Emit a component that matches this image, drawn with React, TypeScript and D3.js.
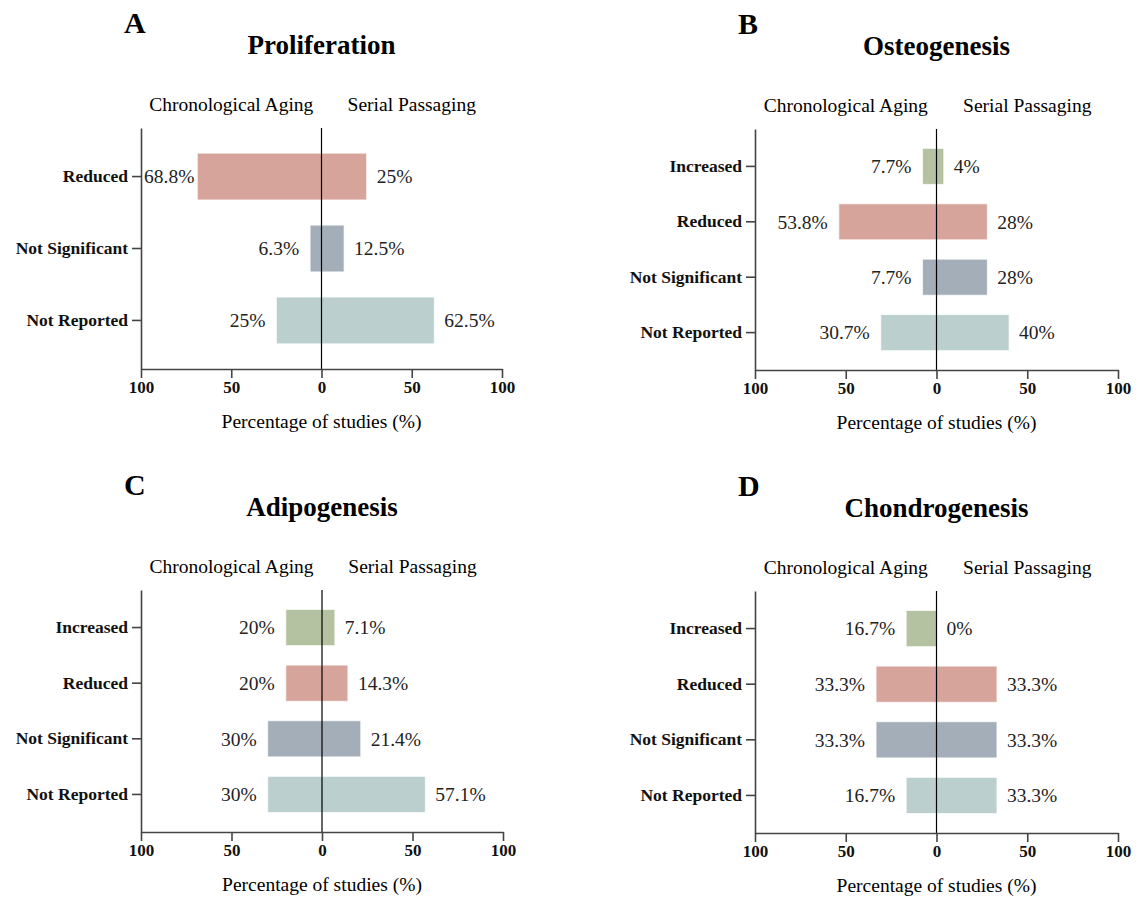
import React, { useEffect, useRef } from 'react';
import * as d3 from 'd3';

const catsA = ['Reduced', 'Not Significant', 'Not Reported'];
const cats4 = ['Increased', 'Reduced', 'Not Significant', 'Not Reported'];

const profChrono = [68.8, 6.3, 25];
const profSerial = [25, 12.5, 62.5];
const osteoChrono = [7.7, 53.8, 7.7, 30.7];
const osteoSerial = [4, 28, 28, 40];
const adipoChrono = [20, 20, 30, 30];
const adipoSerial = [7.1, 14.3, 21.4, 57.1];
const chondroChrono = [16.7, 33.3, 33.3, 16.7];
const chondroSerial = [0, 33.3, 33.3, 33.3];

const tickVals = [-100, -50, 0, 50, 100];

const colors: Record<string, string> = {
  'Increased': '#b4c2a1',
  'Reduced': '#d6a49a',
  'Not Significant': '#a4aeb8',
  'Not Reported': '#bbd0ce',
};

const FONT = '"Liberation Serif", "Times New Roman", serif';

const panels = [
  { letter: 'A', title: 'Proliferation', cats: catsA, chrono: profChrono, serial: profSerial, x0: 141, x1: 502, y0: 128, y1: 369 },
  { letter: 'B', title: 'Osteogenesis', cats: cats4, chrono: osteoChrono, serial: osteoSerial, x0: 755, x1: 1118, y0: 129, y1: 370 },
  { letter: 'C', title: 'Adipogenesis', cats: cats4, chrono: adipoChrono, serial: adipoSerial, x0: 141, x1: 503, y0: 590, y1: 832 },
  { letter: 'D', title: 'Chondrogenesis', cats: cats4, chrono: chondroChrono, serial: chondroSerial, x0: 755, x1: 1118, y0: 591, y1: 833 },
];

const App = () => {
  const ref = useRef<SVGSVGElement>(null);

  useEffect(() => {
    const svg = d3.select(ref.current);
    svg.selectAll('*').remove();
    svg.style('font-family', FONT);

    panels.forEach(p => {
      const g = svg.append('g');
      const x = d3.scaleLinear().domain([-100, 100]).range([p.x0, p.x1]);
      const y = d3.scaleBand().domain(p.cats).range([p.y0, p.y1]).padding(0.35);

      // letter + title
      g.append('text').attr('x', p.x0 - 17).attr('y', p.y0 - 95)
        .style('font-size', '30px').style('font-weight', 'bold').text(p.letter);
      g.append('text').attr('x', x(0)).attr('y', p.y0 - 74).attr('text-anchor', 'middle')
        .style('font-size', '27px').style('font-weight', 'bold').text(p.title);

      // side headers
      g.append('text').attr('x', x(-50)).attr('y', p.y0 - 17).attr('text-anchor', 'middle')
        .style('font-size', '19.5px').text('Chronological Aging');
      g.append('text').attr('x', x(50)).attr('y', p.y0 - 17).attr('text-anchor', 'middle')
        .style('font-size', '19.5px').text('Serial Passaging');

      const rows = p.cats.map((c, i) => ({ cat: c, left: p.chrono[i], right: p.serial[i] }));

      g.selectAll('.bar')
        .data(rows)
        .enter()
        .append('rect')
        .attr('x', d => x(-d.left))
        .attr('y', d => y(d.cat)!)
        .attr('width', d => x(d.right) - x(-d.left))
        .attr('height', y.bandwidth())
        .attr('fill', d => colors[d.cat])
        .attr('stroke', 'rgba(255,255,255,0.7)')
        .attr('stroke-width', 1);

      // value labels
      g.selectAll('.lv')
        .data(rows)
        .enter()
        .append('text')
        .attr('x', d => {
          const xe = x(-d.left) - 11;
          return xe - 52 < p.x0 ? p.x0 + 3 : xe;
        })
        .attr('text-anchor', d => (x(-d.left) - 63 < p.x0 ? 'start' : 'end'))
        .attr('y', d => y(d.cat)! + y.bandwidth() / 2)
        .attr('dy', '0.35em')
        .style('font-size', '19.5px')
        .style('fill', '#222')
        .text(d => `${d.left}%`);

      g.selectAll('.rv')
        .data(rows)
        .enter()
        .append('text')
        .attr('x', d => x(d.right) + 10)
        .attr('y', d => y(d.cat)! + y.bandwidth() / 2)
        .attr('dy', '0.35em')
        .style('font-size', '19.5px')
        .style('fill', '#222')
        .text(d => `${d.right}%`);

      // zero line
      g.append('line')
        .attr('x1', x(0)).attr('x2', x(0))
        .attr('y1', p.y0).attr('y2', p.y1)
        .attr('stroke', '#000').attr('stroke-width', 1.2);

      // axes
      const xAxis = g.append('g')
        .attr('transform', `translate(0,${p.y1})`)
        .call(d3.axisBottom(x).tickValues(tickVals).tickFormat(d => `${Math.abs(+d)}`).tickSize(9).tickSizeOuter(0).tickPadding(3));
      xAxis.select('.domain').attr('stroke', '#444').attr('stroke-width', 1.6);
      xAxis.selectAll('.tick line').attr('stroke', '#444').attr('stroke-width', 1.6);
      xAxis.selectAll('text')
        .style('font-family', FONT)
        .style('font-size', '17px')
        .style('font-weight', 'bold')
        .attr('fill', '#111');

      const yAxis = g.append('g')
        .attr('transform', `translate(${p.x0},0)`)
        .call(d3.axisLeft(y).tickSize(9).tickSizeOuter(0).tickPadding(4));
      yAxis.select('.domain').attr('stroke', '#444').attr('stroke-width', 1.6);
      yAxis.selectAll('.tick line').attr('stroke', '#444').attr('stroke-width', 1.6);
      yAxis.selectAll('text')
        .style('font-family', FONT)
        .style('font-size', '17.5px')
        .style('font-weight', 'bold')
        .attr('fill', '#111');

      g.append('text')
        .attr('x', x(0))
        .attr('y', p.y1 + 59)
        .attr('text-anchor', 'middle')
        .style('font-size', '19.5px')
        .text('Percentage of studies (%)');
    });
  }, []);

  return (
    <svg ref={ref} width={1137} height={901} style={{ position: 'absolute', left: 0, top: 0, background: '#fff' }}></svg>
  );
};

export default App;
